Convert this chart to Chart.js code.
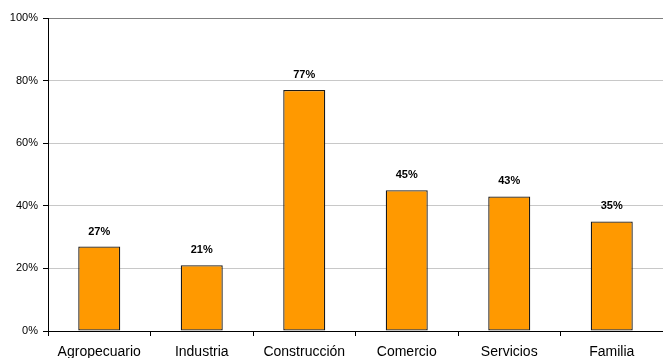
<!DOCTYPE html>
<html lang="es">
<head>
    <meta charset="UTF-8">
    <title>Sectores</title>
    <script src="https://cdn.jsdelivr.net/npm/chart.js"></script>
    <style>
        body {
            margin: 0;
            background: #ffffff;
        }
        canvas {
            display: block;
        }
    </style>
</head>
<body>
    <canvas id="sectorChart" width="663" height="358"></canvas>

    <script>
        // Datos
        const sectores = ['Agropecuario', 'Industria', 'Construcción', 'Comercio', 'Servicios', 'Familia'];
        const porcentajes = [27, 21, 77, 45, 43, 35];
        const ticksY = [0, 20, 40, 60, 80, 100];

        const fuente = '"Liberation Sans", Arial, sans-serif';

        // Etiquetas de valor encima de cada barra
        const etiquetasBarras = {
            id: 'etiquetasBarras',
            afterDatasetsDraw(chart) {
                const ctx = chart.ctx;
                const meta = chart.getDatasetMeta(0);
                ctx.save();
                ctx.font = 'bold 11px ' + fuente;
                ctx.fillStyle = '#000';
                ctx.textAlign = 'center';
                ctx.textBaseline = 'middle';
                meta.data.forEach((bar, i) => {
                    ctx.fillText(porcentajes[i] + '%', bar.x, bar.y - 15);
                });
                ctx.restore();
            }
        };

        const ctx = document.getElementById('sectorChart').getContext('2d');
        new Chart(ctx, {
            type: 'bar',
            data: {
                labels: sectores,
                datasets: [{
                    data: porcentajes,
                    backgroundColor: '#FF9900',
                    borderColor: '#1a1a1a',
                    borderWidth: 1.3,
                    borderSkipped: false,
                    categoryPercentage: 1,
                    barPercentage: 0.41
                }]
            },
            options: {
                responsive: false,
                animation: false,
                layout: {
                    padding: { top: 18, right: 0, left: 0, bottom: 0 }
                },
                plugins: {
                    legend: { display: false },
                    tooltip: { enabled: false }
                },
                scales: {
                    x: {
                        grid: {
                            drawOnChartArea: false,
                            drawTicks: true,
                            tickLength: 5,
                            tickColor: '#000'
                        },
                        border: { color: '#000', width: 1 },
                        ticks: {
                            color: '#000',
                            padding: 8,
                            maxRotation: 0,
                            autoSkip: false,
                            font: { family: fuente, size: 14 }
                        },
                        afterFit(scale) {
                            scale.height = 27;
                        }
                    },
                    y: {
                        min: 0,
                        max: 100,
                        afterBuildTicks(scale) {
                            scale.ticks = ticksY.map(v => ({ value: v }));
                        },
                        grid: {
                            color: c => (c.tick && c.tick.value === 100) ? '#808080' : '#c8c8c8',
                            tickColor: '#000',
                            tickLength: 5
                        },
                        border: { color: '#000', width: 1 },
                        ticks: {
                            color: '#000',
                            padding: 5,
                            font: { family: fuente, size: 11 },
                            callback: v => v + '%'
                        },
                        afterFit(scale) {
                            scale.width = 48;
                        }
                    }
                }
            },
            plugins: [etiquetasBarras]
        });
    </script>
</body>
</html>
